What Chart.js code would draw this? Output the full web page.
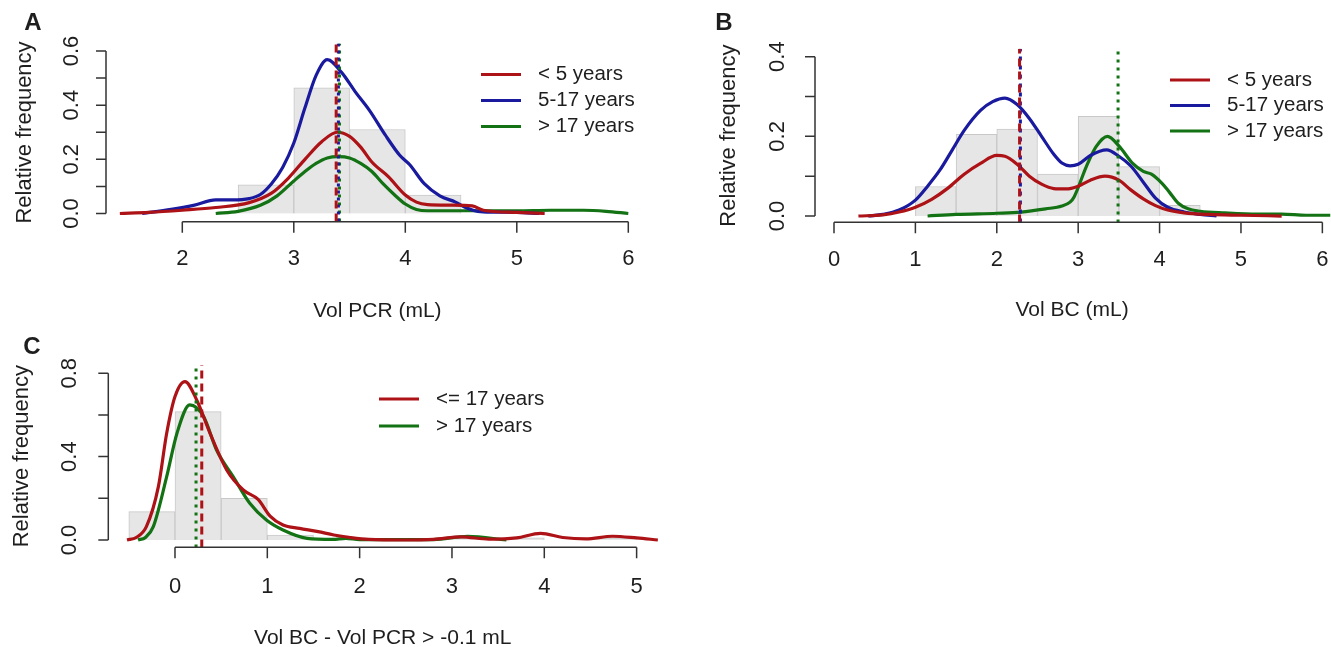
<!DOCTYPE html>
<html>
<head>
<meta charset="utf-8">
<script src="https://cdn.jsdelivr.net/npm/chart.js@4.4.1/dist/chart.umd.min.js"></script>
<style>
  body { margin: 0; background: #fff; }
  #wrap { position: relative; width: 1331px; height: 647px; overflow: hidden; }
  canvas { position: absolute; }
</style>
</head>
<body>
<div id="wrap">
  <canvas id="chartA" width="660" height="330" style="left:0;top:0;width:660px;height:330px"></canvas>
  <canvas id="chartB" width="671" height="330" style="left:660px;top:0;width:671px;height:330px"></canvas>
  <canvas id="chartC" width="660" height="317" style="left:0;top:330px;width:660px;height:317px"></canvas>
</div>
<script>
// ---- Panel A: Vol PCR ----
const binsA = [2.75, 3.25, 3.75, 4.25];
const histA = [0.106, 0.464, 0.31, 0.068];
const lt5A_x = [1.44, 1.7, 2.0, 2.3, 2.6, 2.8, 2.95, 3.1, 3.25, 3.39, 3.5, 3.6, 3.7, 3.85, 4.0, 4.1, 4.2, 4.4, 4.6, 4.7, 5.0, 5.25];
const lt5A_y = [0, 0.004, 0.012, 0.022, 0.04, 0.075, 0.13, 0.2, 0.265, 0.3, 0.285, 0.245, 0.19, 0.135, 0.068, 0.042, 0.033, 0.031, 0.028, 0.012, 0.004, 0];
const mid5A_x = [1.64, 1.9, 2.1, 2.3, 2.45, 2.6, 2.7, 2.8, 2.9, 3.0, 3.1, 3.2, 3.3, 3.43, 3.55, 3.68, 3.82, 3.95, 4.04, 4.17, 4.31, 4.45, 4.55, 4.65, 4.8, 5.0, 5.2];
const mid5A_y = [0, 0.015, 0.03, 0.05, 0.05, 0.055, 0.07, 0.11, 0.17, 0.26, 0.39, 0.51, 0.568, 0.52, 0.45, 0.38, 0.29, 0.215, 0.18, 0.11, 0.065, 0.042, 0.02, 0.008, 0.005, 0.004, 0];
const gt17A_x = [2.3, 2.5, 2.7, 2.85, 3.0, 3.1, 3.2, 3.3, 3.4, 3.5, 3.6, 3.7, 3.8, 3.9, 4.0, 4.1, 4.2, 4.5, 5.0, 5.3, 5.6, 5.8, 6.0];
const gt17A_y = [0, 0.008, 0.03, 0.065, 0.12, 0.155, 0.185, 0.205, 0.21, 0.205, 0.185, 0.155, 0.11, 0.07, 0.035, 0.015, 0.01, 0.01, 0.01, 0.012, 0.012, 0.008, 0];
const medianA = [3.38, 3.40, 3.41];          // <5, 5-17, >17
const xTicksA = [2, 3, 4, 5, 6];
const yTicksA = [0, 0.1, 0.2, 0.3, 0.4, 0.5, 0.6];
const yLabelsA = ['0.0', '', '0.2', '', '0.4', '', '0.6'];

// ---- Panel B: Vol BC ----
const binsB = [1.25, 1.75, 2.25, 2.75, 3.25, 3.75, 4.25, 4.75];
const histB = [0.074, 0.205, 0.218, 0.105, 0.25, 0.124, 0.027, 0.005];
const lt5B_x = [0.3, 0.6, 0.8, 1.0, 1.2, 1.4, 1.6, 1.8, 2.0, 2.1, 2.25, 2.4, 2.55, 2.7, 2.85, 3.0, 3.15, 3.33, 3.5, 3.65, 3.8, 3.95, 4.1, 4.3, 4.6, 5.0, 5.5];
const lt5B_y = [0, 0.003, 0.01, 0.022, 0.042, 0.07, 0.105, 0.132, 0.152, 0.15, 0.13, 0.1, 0.08, 0.069, 0.068, 0.075, 0.09, 0.1, 0.09, 0.065, 0.043, 0.026, 0.015, 0.008, 0.004, 0.002, 0];
const mid5B_x = [0.42, 0.6, 0.8, 1.0, 1.15, 1.3, 1.45, 1.6, 1.8, 1.95, 2.1, 2.25, 2.4, 2.55, 2.7, 2.8, 2.9, 3.0, 3.15, 3.35, 3.5, 3.65, 3.8, 3.95, 4.1, 4.3, 4.5, 4.7];
const mid5B_y = [0, 0.004, 0.015, 0.04, 0.075, 0.115, 0.165, 0.215, 0.265, 0.287, 0.296, 0.28, 0.245, 0.2, 0.155, 0.133, 0.126, 0.13, 0.152, 0.166, 0.15, 0.125, 0.085, 0.045, 0.022, 0.01, 0.004, 0];
const gt17B_x = [1.15, 1.5, 2.0, 2.3, 2.6, 2.8, 2.9, 2.95, 3.1, 3.22, 3.36, 3.5, 3.67, 3.8, 3.9, 4.03, 4.12, 4.23, 4.35, 4.5, 4.8, 5.2, 5.5, 5.8, 6.1];
const gt17B_y = [0, 0.004, 0.007, 0.01, 0.018, 0.025, 0.035, 0.048, 0.124, 0.174, 0.2, 0.176, 0.132, 0.112, 0.105, 0.082, 0.06, 0.032, 0.018, 0.012, 0.008, 0.005, 0.005, 0.002, 0.002];
const medianB = [2.28, 2.29, 3.49];
const xTicksB = [0, 1, 2, 3, 4, 5, 6];
const yTicksB = [0, 0.1, 0.2, 0.3, 0.4];
const yLabelsB = ['0.0', '', '0.2', '', '0.4'];

// ---- Panel C: Vol BC - Vol PCR ----
const binsC = [-0.25, 0.25, 0.75, 1.25, 1.75, 3.25, 3.75, 4.75];
const histC = [0.136, 0.616, 0.2, 0.024, 0.005, 0.008, 0.01, 0.008];
const le17C_x = [-0.52, -0.42, -0.31, -0.18, -0.09, 0.0, 0.108, 0.235, 0.38, 0.56, 0.74, 0.9, 1.03, 1.17, 1.35, 1.55, 1.72, 1.9, 2.1, 2.5, 2.8, 3.1, 3.4, 3.7, 3.96, 4.2, 4.45, 4.74, 5.0, 5.23];
const le17C_y = [0, 0.012, 0.064, 0.256, 0.512, 0.688, 0.76, 0.672, 0.512, 0.336, 0.24, 0.195, 0.115, 0.072, 0.056, 0.04, 0.024, 0.012, 0.003, 0, 0.003, 0.015, 0.004, 0.01, 0.032, 0.012, 0.005, 0.018, 0.01, 0];
const gt17C_x = [-0.4, -0.32, -0.235, -0.09, 0.02, 0.16, 0.31, 0.45, 0.63, 0.81, 0.99, 1.17, 1.43, 1.71, 1.85, 2.0, 2.8, 3.17, 3.59];
const gt17C_y = [0, 0.012, 0.064, 0.304, 0.51, 0.648, 0.592, 0.432, 0.304, 0.176, 0.096, 0.048, 0.008, 0.003, 0.008, 0.002, 0.002, 0.018, 0];
const medianC = [0.29, 0.228];                // <=17, >17
const xTicksC = [0, 1, 2, 3, 4, 5];
const yTicksC = [0, 0.2, 0.4, 0.6, 0.8];
const yLabelsC = ['0.0', '', '0.4', '', '0.8'];

const RED = '#ad1216', BLUE = '#1a1a9e', GREEN = '#137213';
const AXIS = '#333333';
const FONT = '"Liberation Sans", Arial, sans-serif';

const pts = (xs, ys) => xs.map((x, i) => ({ x: x, y: ys[i] }));

function curve(xs, ys, color) {
  return {
    type: 'line', data: pts(xs, ys), borderColor: color, borderWidth: 3.2,
    pointRadius: 0, fill: false, cubicInterpolationMode: 'monotone', order: 1
  };
}

function vline(x, color, dash, y0, y1) {
  return {
    type: 'line', data: [{ x: x, y: y0 }, { x: x, y: y1 }], borderColor: color,
    borderWidth: 3, borderDash: dash, pointRadius: 0, tension: 0, fill: false, order: 0
  };
}

function hist(bins, vals) {
  return {
    type: 'bar', data: pts(bins, vals), backgroundColor: '#e6e6e6',
    borderColor: '#c8c8c8', borderWidth: 1, barPercentage: 1, categoryPercentage: 1, order: 10
  };
}

function text(ctx, s, x, y, font, align, rotate) {
  ctx.save();
  ctx.translate(x, y);
  if (rotate) ctx.rotate(-Math.PI / 2);
  ctx.font = font;
  ctx.fillStyle = '#1e1e1e';
  ctx.textAlign = align || 'center';
  ctx.textBaseline = 'middle';
  ctx.fillText(s, 0, 0);
  ctx.restore();
}

// R-style axes, titles and legend
function rAxes(p) {
  return {
    id: 'rAxes',
    afterDraw(chart) {
      const ctx = chart.ctx, xs = chart.scales.x, ys = chart.scales.y;
      ctx.save();
      ctx.strokeStyle = AXIS;
      ctx.lineWidth = 1.5;
      // y axis
      const yt = p.yTicks.map(v => ys.getPixelForValue(v));
      ctx.beginPath();
      ctx.moveTo(p.yAxisX, yt[0]); ctx.lineTo(p.yAxisX, yt[yt.length - 1]);
      yt.forEach(py => { ctx.moveTo(p.yAxisX, py); ctx.lineTo(p.yAxisX - 10, py); });
      // x axis
      const xt = p.xTicks.map(v => xs.getPixelForValue(v));
      ctx.moveTo(xt[0], p.xAxisY); ctx.lineTo(xt[xt.length - 1], p.xAxisY);
      xt.forEach(px => { ctx.moveTo(px, p.xAxisY); ctx.lineTo(px, p.xAxisY + 11); });
      ctx.stroke();
      ctx.restore();

      const tickFont = '22px ' + FONT;
      p.yLabels.forEach((s, i) => { if (s) text(ctx, s, p.yLabelX, yt[i], tickFont, 'center', true); });
      p.xTicks.forEach((v, i) => text(ctx, String(v), xt[i], p.xLabelY, tickFont, 'center'));

      const ca = chart.chartArea;
      text(ctx, 'Relative frequency', p.yTitleX, (ca.top + ca.bottom) / 2, '22px ' + FONT, 'center', true);
      text(ctx, p.xTitle, (ca.left + ca.right) / 2, p.xTitleY, '21px ' + FONT, 'center');
      text(ctx, p.letter, p.letterX, p.letterY, 'bold 24px ' + FONT, 'center');

      // legend
      p.legend.forEach((item, i) => {
        const ly = p.legY + i * p.legStep;
        ctx.save();
        ctx.strokeStyle = item[1];
        ctx.lineWidth = 3;
        ctx.beginPath();
        ctx.moveTo(p.legX, ly); ctx.lineTo(p.legX + 40, ly);
        ctx.stroke();
        ctx.restore();
        text(ctx, item[0], p.legX + 57, ly, '20.5px ' + FONT, 'left');
      });
    }
  };
}

function makeChart(id, datasets, p) {
  new Chart(document.getElementById(id), {
    type: 'line',
    data: { datasets: datasets },
    options: {
      responsive: false,
      animation: false,
      layout: { padding: p.pad },
      plugins: { legend: { display: false }, tooltip: { enabled: false } },
      scales: {
        x: { type: 'linear', min: p.xMin, max: p.xMax, offset: false, display: false },
        y: { type: 'linear', min: p.yMin, max: p.yMax, display: false }
      }
    },
    plugins: [rAxes(p)]
  });
}

// Panel A
const pA = {
  xMin: 1.3, xMax: 6.2, yMin: -0.03, yMax: 0.628,
  pad: { left: 104.25, right: 9.4, top: 43.4, bottom: 108.4 },
  xTicks: xTicksA, yTicks: yTicksA, yLabels: yLabelsA,
  yAxisX: 106, xAxisY: 221.7, yLabelX: 72, xLabelY: 259, yTitleX: 25, xTitleY: 311,
  xTitle: 'Vol PCR (mL)', letter: 'A', letterX: 33, letterY: 23,
  legX: 481, legY: 74.5, legStep: 26,
  legend: [['< 5 years', RED], ['5-17 years', BLUE], ['> 17 years', GREEN]]
};
makeChart('chartA', [
  hist(binsA, histA),
  curve(lt5A_x, lt5A_y, RED),
  curve(mid5A_x, mid5A_y, BLUE),
  curve(gt17A_x, gt17A_y, GREEN),
  vline(medianA[0], RED, [8, 5], pA.yMin, pA.yMax),
  vline(medianA[1], BLUE, [3, 4], pA.yMin, pA.yMax),
  vline(medianA[2], GREEN, [3, 5], pA.yMin, pA.yMax)
], pA);

// Panel B
const pB = {
  xMin: -0.25, xMax: 6.1, yMin: -0.016, yMax: 0.42,
  pad: { left: 153.65, right: 0.5, top: 48.7, bottom: 107.6 },
  xTicks: xTicksB, yTicks: yTicksB, yLabels: yLabelsB,
  yAxisX: 155, xAxisY: 222.3, yLabelX: 118, xLabelY: 260, yTitleX: 69, xTitleY: 310,
  xTitle: 'Vol BC (mL)', letter: 'B', letterX: 64, letterY: 23,
  legX: 510, legY: 80, legStep: 25.5,
  legend: [['< 5 years', RED], ['5-17 years', BLUE], ['> 17 years', GREEN]]
};
makeChart('chartB', [
  hist(binsB, histB),
  curve(lt5B_x, lt5B_y, RED),
  curve(mid5B_x, mid5B_y, BLUE),
  curve(gt17B_x, gt17B_y, GREEN),
  vline(medianB[0], RED, [8, 5], pB.yMin, pB.yMax),
  vline(medianB[1], BLUE, [4, 5], pB.yMin, pB.yMax),
  vline(medianB[2], GREEN, [3, 5], pB.yMin, pB.yMax)
], pB);

// Panel C
const pC = {
  xMin: -0.75, xMax: 5.25, yMin: -0.036, yMax: 0.84,
  pad: { left: 105.75, right: 0.3, top: 34.9, bottom: 99.5 },
  xTicks: xTicksC, yTicks: yTicksC, yLabels: yLabelsC,
  yAxisX: 108.3, xAxisY: 217.3, yLabelX: 70, xLabelY: 257, yTitleX: 22, xTitleY: 308,
  xTitle: 'Vol BC - Vol PCR > -0.1 mL', letter: 'C', letterX: 32, letterY: 17,
  legX: 379, legY: 69, legStep: 27,
  legend: [['<= 17 years', RED], ['> 17 years', GREEN]]
};
makeChart('chartC', [
  hist(binsC, histC),
  curve(le17C_x, le17C_y, RED),
  curve(gt17C_x, gt17C_y, GREEN),
  vline(medianC[0], RED, [8, 5], pC.yMin, pC.yMax),
  vline(medianC[1], GREEN, [3, 5], pC.yMin, pC.yMax)
], pC);
</script>
</body>
</html>
